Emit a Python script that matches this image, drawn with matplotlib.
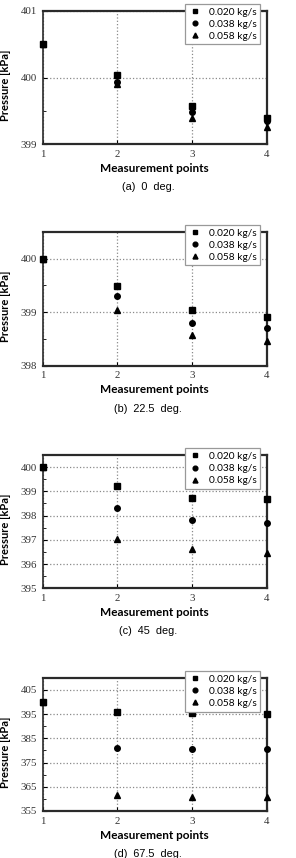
import numpy as np
import matplotlib
matplotlib.use("Agg")
import matplotlib.pyplot as plt
from matplotlib.ticker import MultipleLocator

# measurement points
points = [1, 2, 3, 4]
series_labels = ["0.020 kg/s", "0.038 kg/s", "0.058 kg/s"]
markers = ["s", "o", "^"]

# pressure [kPa], per panel and flow rate
p_0deg = [[400.50, 400.03, 399.57, 399.39],
          [400.50, 399.94, 399.48, 399.35],
          [400.50, 399.91, 399.40, 399.26]]
p_22deg = [[400.00, 399.48, 399.04, 398.91],
           [400.00, 399.30, 398.80, 398.71],
           [400.00, 399.04, 398.58, 398.46]]
p_45deg = [[400.00, 399.23, 398.74, 398.67],
           [400.00, 398.31, 397.80, 397.70],
           [400.00, 397.04, 396.61, 396.47]]
p_67deg = [[400.0, 395.7, 395.3, 395.1],
           [400.0, 381.1, 380.7, 380.5],
           [400.0, 361.4, 360.9, 360.7]]

captions = ["(a)  0  deg.", "(b)  22.5  deg.", "(c)  45  deg.", "(d)  67.5  deg."]
ylims = [(399, 401), (398, 400.5), (395, 400.5), (355, 410)]
ymajor = [1, 1, 1, 10]
yticks = [[399, 400, 401], [398, 399, 400], [395, 396, 397, 398, 399, 400],
          [355, 365, 375, 385, 395, 405]]
panels = [p_0deg, p_22deg, p_45deg, p_67deg]

W, H = 296, 858
fig = plt.figure(figsize=(W / 100, H / 100), dpi=100)

# axes top/bottom in pixels
tops = [10.7, 231.7, 455.0, 677.7]
bottoms = [144.3, 365.7, 588.3, 811.0]
left, right = 42.7, 266.7

for k in range(4):
    ax = fig.add_axes([left / W, 1 - bottoms[k] / H, (right - left) / W,
                       (bottoms[k] - tops[k]) / H])
    for i in range(3):
        ax.plot(points, panels[k][i], linestyle="none", marker=markers[i],
                color="black", markersize=4 if i != 2 else 4.2,
                label=series_labels[i], clip_on=False, zorder=5)
    ax.set_xlim(1, 4)
    ax.set_ylim(*ylims[k])
    ax.set_xticks(points)
    ax.set_yticks(yticks[k])
    ax.yaxis.set_minor_locator(MultipleLocator(ymajor[k] / 2))
    ax.grid(True, which="major", color="#8a8a8a", linestyle=":", linewidth=0.9)
    ax.set_axisbelow(True)
    ax.tick_params(axis="both", which="major", direction="in", length=3,
                   width=0.8, labelsize=7.8, pad=4)
    ax.tick_params(axis="y", which="minor", direction="in", length=2, width=0.6)
    for lab in ax.get_xticklabels() + ax.get_yticklabels():
        lab.set_family("Liberation Serif")
        lab.set_color("#333333")
    for side in ["top", "right", "bottom"]:
        ax.spines[side].set_linewidth(1.6)
        ax.spines[side].set_color("#2a2a2a")
    ax.spines["left"].set_linewidth(1.2)
    ax.spines["left"].set_color("#2a2a2a")

    ax.set_ylabel("Pressure [kPa]", family="Lato", fontweight="bold",
                  fontsize=8)
    ax.yaxis.set_label_coords(-0.14, 0.44)
    ax.set_xlabel("Measurement points", family="Lato", fontweight="bold",
                  fontsize=8.5, labelpad=3)

    leg = ax.legend(loc="upper right", bbox_to_anchor=(0.992, 1.088),
                    prop={"family": "Lato", "size": 7.3}, frameon=True,
                    fancybox=False, edgecolor="#999999", framealpha=1,
                    handletextpad=0.6, borderpad=0.35, labelspacing=0.3,
                    handlelength=1.4, markerscale=0.85)
    leg.get_frame().set_linewidth(0.9)
    leg.set_zorder(10)

    fig.text(0.5, 1 - (bottoms[k] + 43) / H, captions[k], ha="center",
             va="center", family="Liberation Sans", fontsize=7.8)

fig.savefig("out.png", dpi=100)
